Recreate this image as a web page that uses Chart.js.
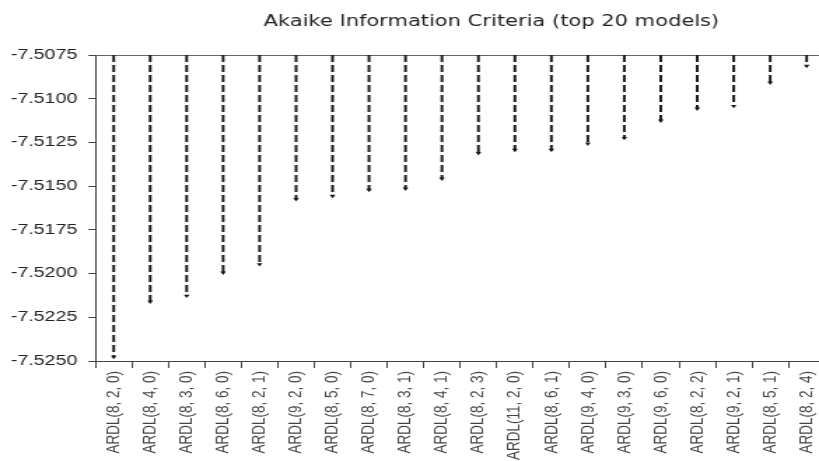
<!DOCTYPE html>
<html>
<head>
<meta charset="utf-8">
<script src="https://cdn.jsdelivr.net/npm/chart.js@4.4.1/dist/chart.umd.min.js"></script>
<style>
    html, body { margin: 0; padding: 0; background: #fff; overflow: hidden; }
    /* the reference picture is stretched sideways, so the canvas is too */
    #aic-chart { display: block; transform: scaleX(1.4); transform-origin: 0 0; }
</style>
</head>
<body>
<canvas id="aic-chart" width="702" height="461"></canvas>
<script>
const models = [
    'ARDL(8, 2, 0)', 'ARDL(8, 4, 0)', 'ARDL(8, 3, 0)', 'ARDL(8, 6, 0)', 'ARDL(8, 2, 1)',
    'ARDL(9, 2, 0)', 'ARDL(8, 5, 0)', 'ARDL(8, 7, 0)', 'ARDL(8, 3, 1)', 'ARDL(8, 4, 1)',
    'ARDL(8, 2, 3)', 'ARDL(11, 2, 0)', 'ARDL(8, 6, 1)', 'ARDL(9, 4, 0)', 'ARDL(9, 3, 0)',
    'ARDL(9, 6, 0)', 'ARDL(8, 2, 2)', 'ARDL(9, 2, 1)', 'ARDL(8, 5, 1)', 'ARDL(8, 2, 4)'
];

const aicValues = [
    -7.52477, -7.52161, -7.52127, -7.51995, -7.51947,
    -7.51575, -7.51556, -7.51522, -7.51515, -7.51457,
    -7.51312, -7.51293, -7.51293, -7.51257, -7.51225,
    -7.51126, -7.51057, -7.51042, -7.50908, -7.50813
];

const yTickValues = [-7.5250, -7.5225, -7.5200, -7.5175, -7.5150, -7.5125, -7.5100, -7.5075];

const yTop = yTickValues[yTickValues.length - 1];
const yBottom = yTickValues[0];

renderAicChart();

// dashed stems: a small tile of 7px dash / 3px gap used as the bar fill
function makeDashPattern(ctx) {
    const tile = document.createElement('canvas');
    tile.width = 4;
    tile.height = 10;
    const t = tile.getContext('2d');
    t.fillStyle = '#1a1a1a';
    t.fillRect(0, 0, 4, 2);
    t.fillRect(0, 5, 4, 5);
    return ctx.createPattern(tile, 'repeat');
}

function renderAicChart() {
    const canvas = document.getElementById('aic-chart');
    const ctx = canvas.getContext('2d');
    const dashPattern = makeDashPattern(ctx);

    new Chart(ctx, {
        data: {
            labels: models,
            datasets: [
                {
                    type: 'bar',
                    data: aicValues.map(v => [yTop, v]),
                    backgroundColor: dashPattern,
                    borderWidth: 0,
                    barThickness: 1.3,
                    order: 2
                },
                {
                    type: 'line',
                    data: aicValues,
                    showLine: false,
                    pointStyle: 'triangle',
                    rotation: 180,
                    pointRadius: 2.3,
                    pointBackgroundColor: '#111',
                    pointBorderColor: '#111',
                    pointBorderWidth: 0,
                    order: 1
                }
            ]
        },
        options: {
            responsive: false,
            devicePixelRatio: 1,
            animation: false,
            layout: { padding: 0 },
            plugins: {
                legend: { display: false },
                tooltip: { enabled: false },
                title: {
                    display: true,
                    text: 'Akaike Information Criteria (top 20 models)',
                    color: '#222',
                    font: { family: 'DejaVu Sans', size: 15, weight: 'normal' },
                    padding: { top: 13, bottom: 24 }
                }
            },
            scales: {
                x: {
                    type: 'category',
                    offset: true,
                    grid: {
                        display: true,
                        offset: true,
                        drawOnChartArea: false,
                        tickLength: 7,
                        color: '#444'
                    },
                    border: { color: '#444', width: 1 },
                    ticks: {
                        autoSkip: false,
                        minRotation: 90,
                        maxRotation: 90,
                        padding: 3,
                        color: '#444',
                        font: { family: 'Liberation Sans', size: 13.5 }
                    },
                    afterFit: scale => { scale.height = 100; }
                },
                xTop: {
                    type: 'category',
                    position: 'top',
                    offset: true,
                    grid: { display: false, drawTicks: false },
                    ticks: { display: false },
                    border: { color: '#666', width: 1 },
                    afterFit: scale => { scale.height = 0; }
                },
                y: {
                    type: 'linear',
                    min: yBottom,
                    max: yTop,
                    grid: {
                        drawOnChartArea: false,
                        tickLength: 5,
                        color: '#444'
                    },
                    border: { color: '#444', width: 1 },
                    ticks: {
                        padding: 8,
                        color: '#222',
                        font: { family: 'Liberation Sans', size: 14 },
                        callback: value => value.toFixed(4)
                    },
                    afterBuildTicks: scale => {
                        scale.ticks = yTickValues.map(v => ({ value: v }));
                    },
                    afterFit: scale => { scale.width = 68.2; }
                },
                // empty room on the right so the plot runs past the window edge
                yRight: {
                    type: 'linear',
                    position: 'right',
                    grid: { display: false, drawTicks: false },
                    ticks: { display: false },
                    border: { display: false },
                    afterFit: scale => { scale.width = 112.8; }
                }
            }
        }
    });
}
</script>
</body>
</html>
